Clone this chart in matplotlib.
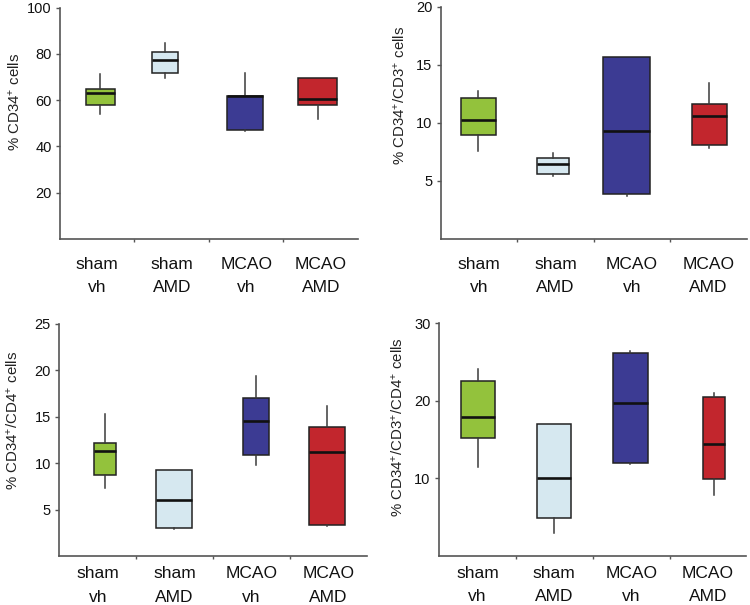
import matplotlib
matplotlib.use("Agg")
import matplotlib.pyplot as plt

plt.rcParams['font.family'] = ['Liberation Sans', 'DejaVu Sans']
plt.rcParams['mathtext.fontset'] = 'custom'
plt.rcParams['mathtext.rm'] = 'Liberation Sans'
plt.rcParams['mathtext.it'] = 'Liberation Sans:italic'
plt.rcParams['mathtext.bf'] = 'Liberation Sans:bold'

categories = ["sham\nvh", "sham\nAMD", "MCAO\nvh", "MCAO\nAMD"]
colors = ["#93c23c", "#d6e8f0", "#3c3b93", "#c2262d"]

# panel A: % CD34+ cells  (whisker low, q1, median, q3, whisker high)
a_lo = [54.1, 69.4, 46.6, 51.8]
a_q1 = [58.0, 71.9, 47.3, 57.8]
a_med = [63.2, 77.3, 61.6, 60.4]
a_q3 = [64.6, 80.6, 61.6, 69.6]
a_hi = [71.3, 84.6, 71.6, 69.6]

# panel B: % CD34+/CD3+ cells
b_lo = [7.6, 5.42, 3.73, 7.8]
b_q1 = [8.95, 5.62, 3.84, 8.09]
b_med = [10.24, 6.45, 9.29, 10.61]
b_q3 = [12.13, 7.0, 15.69, 11.64]
b_hi = [12.76, 7.37, 15.69, 13.45]

# panel C: % CD34+/CD4+ cells
c_lo = [7.4, 2.95, 9.8, 3.28]
c_q1 = [8.8, 3.1, 10.88, 3.35]
c_med = [11.34, 6.08, 14.6, 11.27]
c_q3 = [12.24, 9.27, 17.0, 13.89]
c_hi = [15.32, 9.27, 19.37, 16.18]

# panel D: % CD34+/CD3+/CD4+ cells
d_lo = [11.5, 2.9, 11.85, 7.85]
d_q1 = [15.2, 4.92, 12.0, 9.87]
d_med = [17.87, 10.0, 19.76, 14.43]
d_q3 = [22.5, 17.05, 26.2, 20.5]
d_hi = [24.1, 17.05, 26.4, 20.97]

panels = [
    dict(rect=[0.080, 0.605, 0.3973, 0.3825], data=(a_lo, a_q1, a_med, a_q3, a_hi),
         ylim=100, yticks=[20, 40, 60, 80, 100],
         ylabel=r"% CD34$^{+}$ cells",
         pos=[0.54, 1.41, 2.48, 3.46], widths=[0.39, 0.35, 0.48, 0.52],
         lab=(-0.154, 0.592), pad=13),
    dict(rect=[0.5876, 0.605, 0.408, 0.384], data=(b_lo, b_q1, b_med, b_q3, b_hi),
         ylim=20, yticks=[5, 10, 15, 20],
         ylabel=r"% CD34$^{+}$/CD3$^{+}$ cells",
         pos=[0.49, 1.47, 2.43, 3.51], widths=[0.46, 0.41, 0.61, 0.46],
         lab=(-0.133, 0.616), pad=13),
    dict(rect=[0.0791, 0.0802, 0.41, 0.3843], data=(c_lo, c_q1, c_med, c_q3, c_hi),
         ylim=25, yticks=[5, 10, 15, 20, 25],
         ylabel=r"% CD34$^{+}$/CD4$^{+}$ cells",
         pos=[0.59, 1.49, 2.56, 3.48], widths=[0.29, 0.46, 0.33, 0.46],
         lab=(-0.151, 0.587), pad=7),
    dict(rect=[0.5853, 0.0813, 0.41, 0.3843], data=(d_lo, d_q1, d_med, d_q3, d_hi),
         ylim=30, yticks=[10, 20, 30],
         ylabel=r"% CD34$^{+}$/CD3$^{+}$/CD4$^{+}$ cells",
         pos=[0.51, 1.50, 2.49, 3.58], widths=[0.45, 0.44, 0.46, 0.28],
         lab=(-0.133, 0.554), pad=7),
]

fig = plt.figure(figsize=(7.5, 6.05), dpi=100)

for p in panels:
    ax = fig.add_axes(p["rect"])
    lo, q1, med, q3, hi = p["data"]
    stats = [dict(whislo=lo[i], q1=q1[i], med=med[i], q3=q3[i], whishi=hi[i],
                  fliers=[], label=categories[i]) for i in range(4)]
    bp = ax.bxp(stats, positions=p["pos"], widths=p["widths"], patch_artist=True,
                showcaps=False, showfliers=False,
                boxprops=dict(edgecolor="#222222", linewidth=1.1),
                medianprops=dict(color="#111111", linewidth=1.9),
                whiskerprops=dict(color="#3a3a3a", linewidth=1.1))
    for patch, c in zip(bp["boxes"], colors):
        patch.set_facecolor(c)
    ax.set_xlim(0, 4)
    ax.set_ylim(0, p["ylim"])
    ax.set_yticks(p["yticks"])
    ax.set_xticks([0.5, 1.5, 2.5, 3.5])
    ax.set_xticklabels(categories, fontsize=12.5, linespacing=1.7, color="#111111")
    ax.set_xticks([1, 2, 3], minor=True)
    ax.tick_params(axis="x", which="major", length=0, pad=p["pad"])
    ax.tick_params(axis="x", which="minor", length=2.5, width=1, color="#555555", direction="out")
    ax.tick_params(axis="y", length=3, width=1, color="#555555", labelsize=10.5,
                   labelcolor="#111111", pad=3)
    for s in ["top", "right"]:
        ax.spines[s].set_visible(False)
    for s in ["left", "bottom"]:
        ax.spines[s].set_color("#555555")
        ax.spines[s].set_linewidth(1.2)
    ax.set_ylabel(p["ylabel"], fontsize=10.8, color="#222222")
    ax.yaxis.label.set_verticalalignment("center")
    ax.yaxis.set_label_coords(*p["lab"])

fig.savefig("out.png", dpi=100)
